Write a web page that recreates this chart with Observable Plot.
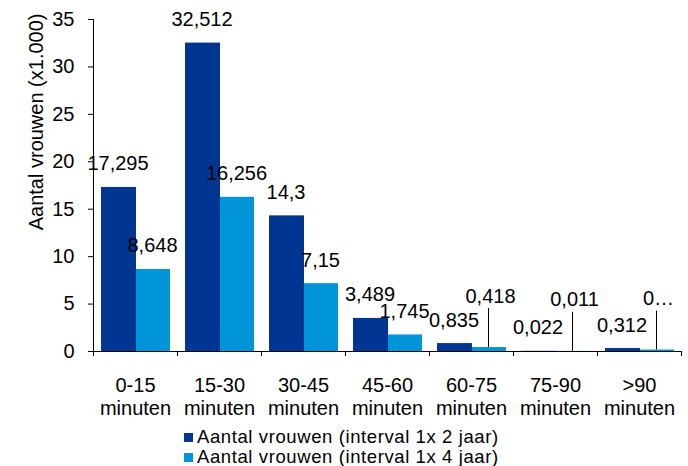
<!DOCTYPE html>
<html><head><meta charset="utf-8">
<script src="https://cdn.jsdelivr.net/npm/d3@7"></script>
<script src="https://cdn.jsdelivr.net/npm/@observablehq/plot@0.6"></script>
<style>
body{margin:0;background:#fff;font-family:"Liberation Sans",Arial,sans-serif;}
#chart{width:688px;height:466px;overflow:hidden;position:relative;}
.legend{padding-left:184px;font-size:18.5px;letter-spacing:0.6px;line-height:20px;color:#000;}
.legend .row{display:flex;align-items:center;white-space:nowrap;height:20px;}
.legend .sw{display:inline-block;width:9px;height:9px;margin-right:4px;}
</style></head><body><div id="chart"></div>
<script>
const categories = ["0-15 minuten","15-30 minuten","30-45 minuten","45-60 minuten","60-75 minuten","75-90 minuten",">90 minuten"];
const seriesNames = ["Aantal vrouwen (interval 1x 2 jaar)","Aantal vrouwen (interval 1x 4 jaar)"];
const interval2 = [17.295,32.512,14.3,3.489,0.835,0.022,0.312];
const interval4 = [8.648,16.256,7.15,1.745,0.418,0.011,0.156];
const yTicks = [0,5,10,15,20,25,30,35];
const yLabel = "Aantal vrouwen (x1.000)";
const leaderLabels = ["60-75 minuten","75-90 minuten",">90 minuten"];
const clippedLabels = [">90 minuten"];
const colors = ["#003591","#0095d9"];

const fmt = v => String(v).replace(".", ",");
const rows = [];
[interval2, interval4].forEach((vals, s) => {
  vals.forEach((v, i) => {
    rows.push({
      cat: categories[i], i, s, series: seriesNames[s], value: v,
      label: (s === 1 && clippedLabels.includes(categories[i])) ? "0\u2026" : fmt(v),
      leader: s === 1 && leaderLabels.includes(categories[i])
    });
  });
});
const dark = rows.filter(d => d.s === 0);
const light = rows.filter(d => d.s === 1);
const n = categories.length;

const plot = Plot.plot({
  width: 688, height: 427,
  marginLeft: 93, marginRight: 7, marginTop: 19, marginBottom: 76,
  style: {fontFamily: "Liberation Sans, Arial, sans-serif", fontSize: "20px", color: "#000", background: "#fff"},
  x: {domain: [0, n]},
  y: {domain: [yTicks[0], yTicks[yTicks.length - 1]]},
  marks: [
    Plot.rectY(dark, {x1: d => d.i, x2: d => d.i + 1, y1: 0, y2: "value", fill: colors[0], insetLeft: 8, insetRight: 41}),
    Plot.rectY(light, {x1: d => d.i, x2: d => d.i + 1, y1: 0, y2: "value", fill: colors[1], insetLeft: 43, insetRight: 7}),
    Plot.ruleY([yTicks[0]], {stroke: "#000"}),
    Plot.ruleX([0], {y1: yTicks[0], y2: yTicks[yTicks.length - 1], stroke: "#000"}),
    Plot.axisY({ticks: yTicks, tickSize: 5, tickPadding: 14, fontSize: 20, label: null, stroke: "#000"}),
    Plot.axisX({ticks: d3.range(n + 1), tickSize: 5, tickFormat: () => "", label: null, stroke: "#000"}),
    Plot.text(categories, {x: (d, i) => i + 0.5, y: 0, text: d => d.replace(" ", "\n"), dy: 24, lineAnchor: "top", lineHeight: 1.15, fontSize: 20, fill: "#000"}),
    Plot.text(dark, {x: d => d.i + 0.5, y: "value", text: "label", dx: -17.5, dy: -17, lineAnchor: "bottom", fontSize: 20, fill: "#000"}),
    Plot.text(light.filter(d => !d.leader), {x: d => d.i + 0.5, y: "value", text: "label", dx: 17, dy: -17, lineAnchor: "bottom", fontSize: 20, fill: "#000"}),
    Plot.text(light.filter(d => d.leader), {x: d => d.i + 0.5, y: "value", text: "label", dx: 19, dy: -45, lineAnchor: "bottom", fontSize: 20, fill: "#000"}),
    Plot.ruleX(light.filter(d => d.leader), {x: d => d.i + 0.5, y1: "value", y2: "value", dx: 17, insetBottom: 39, stroke: "#000"}),
    Plot.text([yLabel], {frameAnchor: "top-left", text: d => d, rotate: -90, textAnchor: "end", lineAnchor: "middle", dx: -57, dy: -6, fontSize: 20, fill: "#000"})
  ]
});

const chart = document.getElementById("chart");
chart.appendChild(plot);
const legend = document.createElement("div");
legend.className = "legend";
seriesNames.forEach((name, s) => {
  const row = document.createElement("div");
  row.className = "row";
  const sw = document.createElement("span");
  sw.className = "sw";
  sw.style.background = colors[s];
  row.appendChild(sw);
  row.appendChild(document.createTextNode(name));
  legend.appendChild(row);
});
chart.appendChild(legend);
</script>
</body></html>
